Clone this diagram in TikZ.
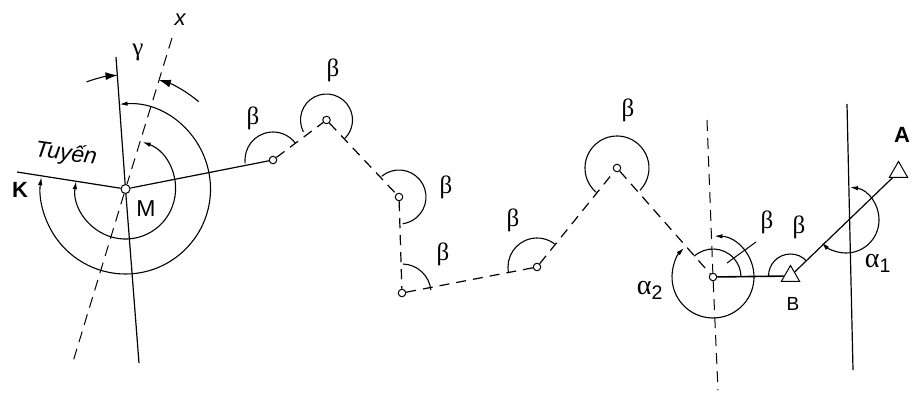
\documentclass[tikz,border=0pt]{standalone}
\usepackage{fontspec}
\setsansfont{Liberation Sans}
\newfontfamily\greekfont{Liberation Serif}
\usetikzlibrary{arrows.meta,shapes.geometric}

\tikzset{
    station/.style={circle, draw, fill=white, inner sep=0pt, minimum size=7.5pt, line width=1pt},
    mainstation/.style={station, minimum size=9pt},
    fixedpoint/.style={regular polygon, regular polygon sides=3, draw, fill=white, inner sep=0pt, minimum size=21pt, line width=1pt},
    traverse/.style={line width=1.2pt},
    planned/.style={line width=1.2pt, dash pattern=on 10pt off 7pt},
    north/.style={line width=1pt, dash pattern=on 11pt off 7pt},
    anglearc/.style={line width=1.1pt},
    turnarc/.style={line width=1.1pt, {Latex[length=8pt,width=4.5pt]}-{Latex[length=8pt,width=4.5pt]}},
    gammaarc/.style={line width=1.1pt, -{Latex[length=12pt,width=8pt]}},
    greek/.style={font=\greekfont\fontsize{25}{27}\selectfont, inner sep=0pt},
    alphalabel/.style={font=\greekfont\fontsize{28}{30}\selectfont, inner sep=0pt},
    letter/.style={font=\sffamily\fontsize{19}{21}\selectfont, inner sep=0pt},
    boldletter/.style={font=\sffamily\bfseries\fontsize{22}{24}\selectfont, inner sep=0pt}
}

\begin{document}
\begin{tikzpicture}[x=1pt, y=1pt]
    \useasboundingbox (0,0) rectangle (916,392);

    % stations of the traverse
    \node[mainstation] (M) at (125.5,203) {};
    \node[station] (p1) at (273,232) {};
    \node[station] (p2) at (326.5,272) {};
    \node[station] (p3) at (399,195) {};
    \node[station] (p4) at (402,99) {};
    \node[station] (p5) at (537,125) {};
    \node[station] (p6) at (617,224) {};
    \node[station] (p7) at (713,115) {};
    \node[fixedpoint] (B) at (790.5,116) {};
    \node[fixedpoint] (A) at (898.5,220) {};

    % free ends
    \coordinate (K) at (17,220);
    \coordinate (meridiantop) at (116,335);
    \coordinate (meridianbottom) at (139,29);
    \coordinate (xtop) at (172,354);
    \coordinate (xbottom) at (72,27);
    \coordinate (northtop) at (707,272);
    \coordinate (northbottom) at (718,2);
    \coordinate (gridtop) at (847,288);
    \coordinate (gridbottom) at (853,22);
    \coordinate (Bcross) at (846,172);
    \coordinate (leaderin) at (727,129);
    \coordinate (leaderout) at (756,150);

    % lines
    \draw[traverse] (K) -- (M);
    \draw[traverse] (M) -- (p1);
    \draw[planned] (p1) -- (p2);
    \draw[planned] (p2) -- (p3);
    \draw[planned] (p3) -- (p4);
    \draw[planned] (p4) -- (p5);
    \draw[planned] (p5) -- (p6);
    \draw[planned] (p6) -- (p7);
    \draw[traverse, line width=1.6pt] (p7) -- (B);
    \draw[traverse] (B) -- (A);
    \draw[traverse] (meridiantop) -- (M);
    \draw[traverse] (M) -- (meridianbottom);
    \draw[north] (xtop) -- (M);
    \draw[north] (M) -- (xbottom);
    \draw[north] (northtop) -- (p7);
    \draw[north] (p7) -- (northbottom);
    \draw[traverse] (gridtop) -- (gridbottom);
    \draw[line width=1pt] (leaderin) -- (leaderout);

    % beta arcs
    \foreach \pt/\angA/\angB/\rad in {p1/187/37/28, p2/207/-45/26, p3/130/-82/27,
        p4/88/6/29, p5/192/53/29, p6/229/-44/32, p7/132/0/28, B/180/43/22}
        \draw[anglearc] (\pt) ++(\angA:\rad pt) arc[start angle=\angA, end angle=\angB, radius=\rad pt];

    % arcs with arrows
    \draw[turnarc] (M) ++(70:50pt) arc[start angle=70, end angle=-189, radius=50pt];
    \draw[turnarc] (M) ++(94:85pt) arc[start angle=94, end angle=-188, radius=85pt];
    \draw[gammaarc] (M) ++(110:114pt) arc[start angle=110, end angle=94, radius=114pt];
    \draw[gammaarc] (M) ++(50:114pt) arc[start angle=50, end angle=73, radius=114pt];
    \draw[turnarc] (p7) ++(88:41pt) arc[start angle=88, end angle=-225, radius=41pt];
    \draw[turnarc] (Bcross) ++(83:33pt) arc[start angle=83, end angle=-137, radius=33pt];

    % labels
    \node[greek] (gammalabel) at (138,340) {γ};
    \node[font=\sffamily\itshape\fontsize{23}{25}\selectfont, rotate=-8, inner sep=0pt] (tuyenlabel) at (66,238) {Tuyến};
    \node[boldletter] (Klabel) at (20,202) {K};
    \node[letter, font=\sffamily\fontsize{23}{25}\selectfont] (Mlabel) at (146,183) {M};
    \node[letter, font=\sffamily\itshape\fontsize{22}{24}\selectfont] (xlabel) at (180,372) {x};
    \node[greek] (b1) at (253,274) {β};
    \node[greek] (b2) at (333,322) {β};
    \node[greek] (b3) at (446,205) {β};
    \node[greek] (b4) at (443,138) {β};
    \node[greek] (b5) at (513,172) {β};
    \node[greek] (b6) at (628,282) {β};
    \node[greek] (b7) at (767,170) {β};
    \node[greek] (b8) at (799,165) {β};
    \node[alphalabel] (a2) at (650,102) {α{\sffamily\textsubscript{2}}};
    \node[alphalabel] (a1) at (878,129) {α{\sffamily\textsubscript{1}}};
    \node[letter] (Blabel) at (793,88) {B};
    \node[boldletter] (Alabel) at (902,257) {A};
\end{tikzpicture}
\end{document}
